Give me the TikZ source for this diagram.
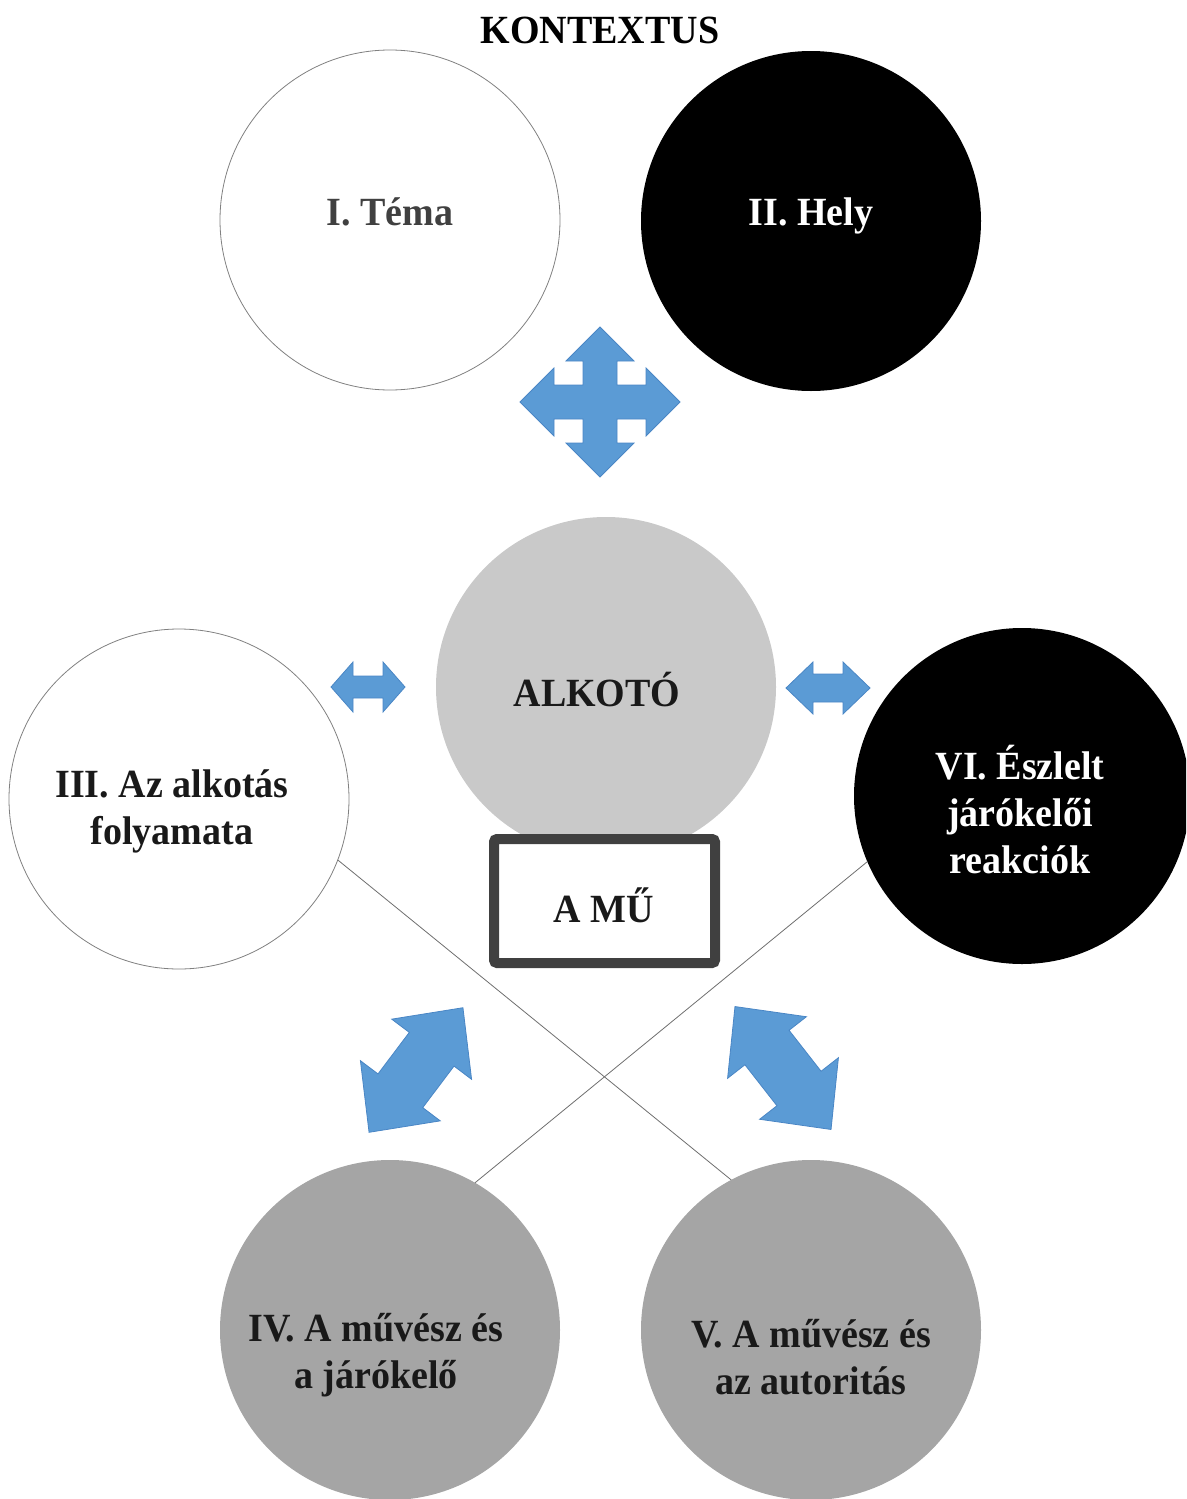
\documentclass[tikz,border=0pt]{standalone}
\usepackage{fontspec}
\setmainfont{Liberation Serif}[FakeStretch=0.95]
\definecolor{arrowblue}{HTML}{5B9BD5}
\definecolor{arrowedge}{HTML}{4A86C5}
\definecolor{lightcirc}{HTML}{C9C9C9}
\definecolor{midcirc}{HTML}{A5A5A5}
\definecolor{darktext}{HTML}{404040}
\definecolor{boxedge}{HTML}{404040}
\definecolor{linegray}{HTML}{6E6E6E}
\definecolor{circedge}{HTML}{808080}
\newcommand{\mlines}[1]{\begin{tabular}[t]{@{}c@{}}#1\end{tabular}}
\begin{document}
\begin{tikzpicture}[x=1pt,y=-1pt,
  disc/.style={circle,inner sep=0pt,outer sep=0pt,minimum size=340pt},
  whitedisc/.style={disc,fill=white,draw=circedge,line width=0.8pt},
  labeltext/.style={font=\fontsize{40}{47}\selectfont\bfseries,inner sep=0pt,outer sep=0pt,anchor=base,text=black!90},
  arrowshape/.style={fill=arrowblue,draw=arrowedge,line width=0.8pt,line join=miter},
  connector/.style={draw=linegray,line width=0.8pt}
]
\useasboundingbox (0,0) rectangle (1186,1499);
\clip (0,0) rectangle (1186,1499);

% circles
\node[whitedisc] (tema) at (390,220) {};
\node[disc,fill=black] (hely) at (811,221) {};
\node[disc,fill=lightcirc] (alkoto) at (606,687) {};
\node[whitedisc] (folyamat) at (179,799) {};
\node[disc,fill=black,minimum size=336pt] (eszlelt) at (1022,796) {};
\node[disc,fill=midcirc] (jarokelo) at (390,1330) {};
\node[disc,fill=midcirc] (autoritas) at (811,1330) {};

% connectors
\draw[connector] (folyamat.-21.4) -- (autoritas.118.9);
\draw[connector] (eszlelt.-157.8) -- (jarokelo.60.5);

% four-way arrow
\draw[arrowshape,shift={(600,402)}]
  (0,-75) -- (34,-41) -- (17,-41) -- (17,-17) -- (46,-17) -- (46,-34) -- (80,0)
  -- (46,34) -- (46,17) -- (17,17) -- (17,41) -- (34,41) -- (0,75)
  -- (-34,41) -- (-17,41) -- (-17,17) -- (-46,17) -- (-46,34) -- (-80,0)
  -- (-46,-34) -- (-46,-17) -- (-17,-17) -- (-17,-41) -- (-34,-41) -- cycle;

% horizontal double arrows
\draw[arrowshape,shift={(368,687)}]
  (-37,0) -- (-15,-25) -- (-15,-11) -- (15,-11) -- (15,-25) -- (37,0)
  -- (15,25) -- (15,11) -- (-15,11) -- (-15,25) -- cycle;
\draw[arrowshape,shift={(828,688)}]
  (-42,0) -- (-15,-26) -- (-15,-14) -- (15,-14) -- (15,-26) -- (42,0)
  -- (15,26) -- (15,14) -- (-15,14) -- (-15,26) -- cycle;

% diagonal double arrows
\draw[arrowshape,shift={(416,1070)},rotate=53]
  (-78,0) -- (-26,-50) -- (-26,-28) -- (26,-28) -- (26,-50) -- (78,0)
  -- (26,50) -- (26,28) -- (-26,28) -- (-26,50) -- cycle;
\draw[arrowshape,shift={(783,1068)},rotate=-52]
  (-78,0) -- (-26,-50) -- (-26,-28) -- (26,-28) -- (26,-50) -- (78,0)
  -- (26,50) -- (26,28) -- (-26,28) -- (-26,50) -- cycle;

% the work
\node[draw=boxedge,line width=10pt,fill=white,rounded corners=3pt,
      minimum width=221pt,minimum height=124pt,inner sep=0pt] (mu) at (604.5,901) {};

% texts
\node[labeltext,text=black] (tkontext) at (600,43) {KONTEXTUS};
\node[labeltext,text=darktext] (ttema) at (390,225) {I. Téma};
\node[labeltext,text=white] (thely) at (811,225) {II. Hely};
\node[labeltext] (talkoto) at (597,706) {ALKOTÓ};
\node[labeltext] (tfolyamat) at (172,797) {\mlines{III. Az alkotás\\folyamata}};
\node[labeltext] (tmu) at (604,922) {A MŰ};
\node[labeltext,text=white] (teszlelt) at (1020,779) {\mlines{VI. Észlelt\\járókelői\\reakciók}};
\node[labeltext] (tjarokelo) at (376,1341) {\mlines{IV. A művész és\\a járókelő}};
\node[labeltext] (tautoritas) at (811,1347) {\mlines{V. A művész és\\az autoritás}};
\end{tikzpicture}
\end{document}
